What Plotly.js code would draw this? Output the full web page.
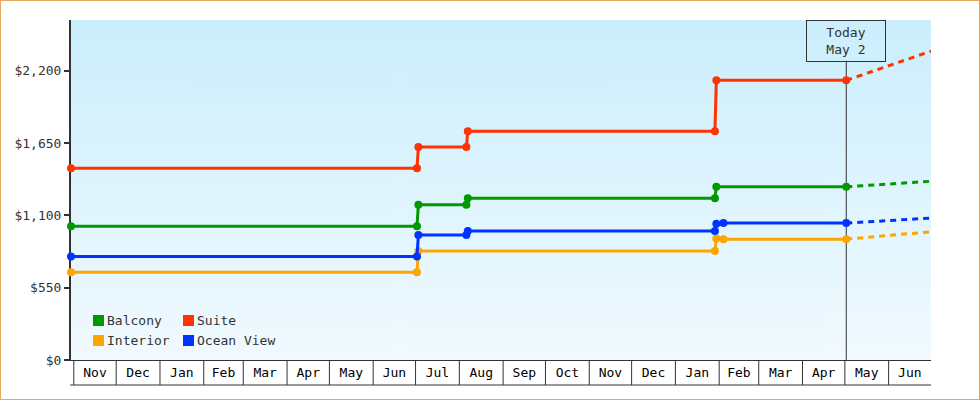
<!DOCTYPE html>
<html>
<head>
<meta charset="utf-8">
<script src="https://cdn.plot.ly/plotly-3.0.1.min.js"></script>
<style>
  html, body { margin: 0; padding: 0; background: #fff; }
  #wrap { position: relative; width: 980px; height: 400px; }
  #chart { width: 980px; height: 400px; }
  #frame { position: absolute; left: 0; top: 0; width: 978px; height: 398px;
           border: 1px solid #e8a860; pointer-events: none; }
</style>
</head>
<body>
<div id="wrap">
  <div id="chart"></div>
  <div id="frame"></div>
</div>
<script>
// price history
const balconyDates = ['2021-10-30', '2022-07-02', '2022-07-03', '2022-08-06', '2022-08-07', '2023-01-29', '2023-01-30', '2023-05-02'];
const balconyPrices = [1017, 1017, 1180, 1180, 1230, 1230, 1317, 1317];

const suiteDates = ['2021-10-30', '2022-07-02', '2022-07-03', '2022-08-06', '2022-08-07', '2023-01-29', '2023-01-30', '2023-05-02'];
const suitePrices = [1458, 1458, 1620, 1620, 1740, 1740, 2126, 2126];

const interiorDates = ['2021-10-30', '2022-07-02', '2022-07-03', '2023-01-29', '2023-01-30', '2023-02-04', '2023-05-02'];
const interiorPrices = [668, 668, 828, 828, 923, 919, 919];

const oceanDates = ['2021-10-30', '2022-07-02', '2022-07-03', '2022-08-06', '2022-08-07', '2023-01-29', '2023-01-30', '2023-02-04', '2023-05-02'];
const oceanPrices = [787, 787, 950, 950, 981, 981, 1035, 1041, 1041];

// projection after today
const forecastDates = ['2023-05-02', '2023-07-01'];
const balconyForecast = [1317, 1359];
const suiteForecast = [2126, 2348];
const interiorForecast = [919, 975];
const oceanForecast = [1041, 1079];

const today = '2023-05-02';
const todayLabel = 'Today<br>May 2';
const xRange = ['2021-10-30', '2023-07-01'];
const yTicks = [0, 550, 1100, 1650, 2200];
const yTickText = yTicks.map(v => '$' + v.toLocaleString('en-US'));

// legend is laid out two by two, column-wise
const legendColumns = [['Balcony', 'Interior'], ['Suite', 'Ocean View']];

const FONT = 'DejaVu Sans Mono';
const colors = { Balcony: '#009900', Suite: '#ff3300', Interior: '#ffa500', 'Ocean View': '#0033ff' };

// plot area in pixels, used to place the legend
const L = 71, T = 20, W = 860, H = 340;
const px = x => (x - L) / W;
const py = y => (T + H - y) / H;

function history(name, x, y) {
    return {
        x: x, y: y, name: name, type: 'scatter', mode: 'lines+markers',
        line: { color: colors[name], width: 3 },
        marker: { color: colors[name], size: 8 },
        cliponaxis: false, showlegend: false, hoverinfo: 'x+y+name'
    };
}
function forecast(name, y) {
    return {
        x: forecastDates, y: y, name: name + ' (forecast)', type: 'scatter', mode: 'lines',
        line: { color: colors[name], width: 3, dash: '6px,5px' },
        showlegend: false, hoverinfo: 'skip'
    };
}

const data = [
    forecast('Balcony', balconyForecast),
    forecast('Suite', suiteForecast),
    forecast('Interior', interiorForecast),
    forecast('Ocean View', oceanForecast),
    history('Balcony', balconyDates, balconyPrices),
    history('Suite', suiteDates, suitePrices),
    history('Interior', interiorDates, interiorPrices),
    history('Ocean View', oceanDates, oceanPrices)
];

// gradient behind the plot area
const cv = document.createElement('canvas');
cv.width = 4; cv.height = 256;
const ctx = cv.getContext('2d');
const grad = ctx.createLinearGradient(0, 0, 0, 256);
grad.addColorStop(0, 'rgb(203,238,252)');
grad.addColorStop(1, 'rgb(241,250,255)');
ctx.fillStyle = grad;
ctx.fillRect(0, 0, 4, 256);

// month boxes under the axis
const boxDepth = 25 / H;
const shapes = [];
const m = new Date(Date.UTC(2021, 10, 1));
const end = new Date(xRange[1] + 'T00:00:00Z');
while (m < end) {
    const d = m.toISOString().slice(0, 10);
    shapes.push({
        type: 'line', xref: 'x', yref: 'paper', x0: d, x1: d,
        y0: 0, y1: -boxDepth, line: { color: '#333', width: 1 }
    });
    m.setUTCMonth(m.getUTCMonth() + 1);
}
shapes.push({
    type: 'line', xref: 'paper', yref: 'paper', x0: -0.001, x1: 1,
    y0: -boxDepth, y1: -boxDepth, line: { color: '#333', width: 1 }
});
shapes.push({
    type: 'line', xref: 'x', yref: 'paper', x0: today, x1: today,
    y0: 0, y1: 0.88, layer: 'below', line: { color: '#333', width: 1 }
});

const annotations = [{
    x: today, xref: 'x', y: 1, yref: 'paper',
    xanchor: 'center', yanchor: 'top',
    text: todayLabel, showarrow: false, align: 'center',
    width: 74, height: 36, borderpad: 2,
    bordercolor: '#333', borderwidth: 1,
    font: { family: FONT, size: 13, color: '#333' }
}];

// legend: square swatch + name
legendColumns.forEach((col, ci) => {
    col.forEach((name, ri) => {
        const x0 = 93 + ci * 90, y0 = 315 + ri * 20;
        shapes.push({
            type: 'rect', xref: 'paper', yref: 'paper',
            x0: px(x0), x1: px(x0 + 11), y0: py(y0 + 11), y1: py(y0),
            fillcolor: colors[name], line: { width: 0 }
        });
        annotations.push({
            x: px(x0 + 12), y: py(y0 + 5.5), xref: 'paper', yref: 'paper',
            xanchor: 'left', yanchor: 'middle', showarrow: false,
            text: name, font: { family: FONT, size: 13, color: '#333' }
        });
    });
});

const layout = {
    width: 980, height: 400,
    margin: { l: L, r: 980 - L - W, t: T, b: 400 - T - H },
    paper_bgcolor: '#fff',
    plot_bgcolor: 'rgba(0,0,0,0)',
    font: { family: FONT, size: 13, color: '#333' },
    showlegend: false,
    hovermode: 'closest',
    images: [{
        source: cv.toDataURL(), xref: 'paper', yref: 'paper',
        x: 0, y: 1, sizex: 1, sizey: 1, sizing: 'stretch',
        xanchor: 'left', yanchor: 'top', layer: 'below'
    }],
    xaxis: {
        type: 'date', range: xRange,
        tick0: '2021-11-01', dtick: 'M1', tickformat: '%b',
        ticklabelmode: 'period', ticks: '',
        tickfont: { family: FONT, size: 13, color: '#000' },
        showgrid: false, zeroline: false,
        showline: true, linecolor: '#333', linewidth: 1,
        fixedrange: true
    },
    yaxis: {
        range: [0, 2585], tickmode: 'array', tickvals: yTicks, ticktext: yTickText,
        ticks: 'outside', ticklen: 5, tickwidth: 2, tickcolor: '#333',
        tickfont: { family: FONT, size: 13, color: '#333' },
        showgrid: false, zeroline: false,
        showline: true, linecolor: '#333', linewidth: 2,
        layer: 'below traces', fixedrange: true
    },
    shapes: shapes,
    annotations: annotations
};

Plotly.newPlot('chart', data, layout, { displayModeBar: false });
</script>
</body>
</html>
